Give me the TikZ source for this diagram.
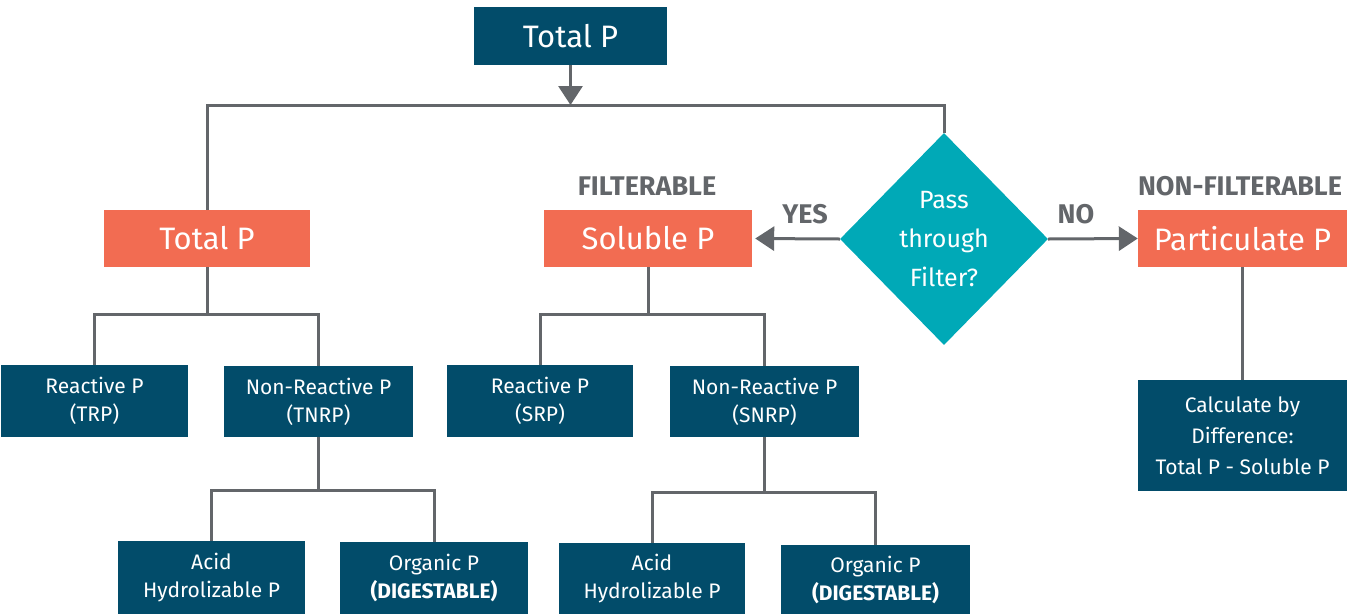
\documentclass[tikz,border=0pt]{standalone}
\usepackage{fontspec}
\setmainfont{Fira Sans}
\usetikzlibrary{arrows.meta, shapes.geometric}

\definecolor{navyP}{HTML}{024C6A}
\definecolor{coralP}{HTML}{F26C52}
\definecolor{tealP}{HTML}{00A9B7}
\definecolor{lineP}{HTML}{63666A}

\begin{document}
\begin{tikzpicture}[line cap=butt,line join=miter,x=1pt,y=-1pt,
    conn/.style={draw=lineP, line width=3pt},
    tip/.style={-{Triangle[length=19pt,width=24pt]}},
    bignavy/.style={rectangle, fill=navyP, text=white, inner sep=0pt, font=\fontsize{31}{36}\selectfont},
    bigcoral/.style={rectangle, fill=coralP, text=white, inner sep=0pt, font=\fontsize{31}{36}\selectfont},
    smallnavy/.style={rectangle, fill=navyP, text=white, inner sep=0pt, align=center, font=\fontsize{21}{28}\selectfont},
    decide/.style={diamond, fill=tealP, text=white, inner sep=0pt, align=center, font=\fontsize{25}{39}\selectfont},
    tag/.style={text=lineP, inner sep=0pt, font=\bfseries\fontsize{27}{30}\selectfont}]
    \useasboundingbox (0,0) rectangle (1347,614);

    % top level
    \draw (570.5,36) node[bignavy, minimum width=193pt, minimum height=58pt] (top) {Total P};
    \coordinate (bus) at (570.5,105);

    \draw (207,238.5) node[bigcoral, minimum width=206pt, minimum height=57pt] (tp) {Total P};
    \draw (648,238.5) node[bigcoral, minimum width=208pt, minimum height=57pt] (sp) {Soluble P};
    \draw (944,239) node[decide, minimum width=208pt, minimum height=212pt] (pass) {Pass\\through\\Filter?};
    \draw (1242.5,238.5) node[bigcoral, minimum width=209pt, minimum height=57pt] (pp) {Particulate P};

    \draw (647,186) node[tag] (filt) {FILTERABLE};
    \draw (1240,186) node[tag] (nonfilt) {NON-FILTERABLE};
    \draw (805,214) node[tag] (yes) {YES};
    \draw (1076,214) node[tag] (no) {NO};

    % total P branch
    \draw (94.5,401) node[smallnavy, minimum width=187pt, minimum height=72pt] (trp) {Reactive P\\(TRP)};
    \draw (318.5,401.5) node[smallnavy, minimum width=189pt, minimum height=71pt] (tnrp) {Non-Reactive P\\(TNRP)};
    \draw (211.5,577.5) node[smallnavy, minimum width=187pt, minimum height=73pt] (tahp) {Acid\\Hydrolizable P};
    \draw (434,578) node[smallnavy, minimum width=188pt, minimum height=72pt] (torg) {Organic P\\\textbf{(DIGESTABLE)}};
    \coordinate (tpj) at (207,314);
    \coordinate (tnrpj) at (318.5,490);

    % soluble P branch
    \draw (540,401) node[smallnavy, minimum width=186pt, minimum height=72pt] (srp) {Reactive P\\(SRP)};
    \draw (764.5,401.5) node[smallnavy, minimum width=189pt, minimum height=71pt] (snrp) {Non-Reactive P\\(SNRP)};
    \draw (652,578.5) node[smallnavy, minimum width=186pt, minimum height=71pt] (sahp) {Acid\\Hydrolizable P};
    \draw (875.5,579.5) node[smallnavy, minimum width=189pt, minimum height=69pt] (sorg) {Organic P\\\textbf{(DIGESTABLE)}};
    \coordinate (spj) at (648,314);
    \coordinate (snrpj) at (764.5,492);

    % particulate P
    \draw (1242.5,435.5) node[smallnavy, minimum width=209pt, minimum height=111pt, font=\fontsize{21}{31}\selectfont] (calc) {Calculate by\\Difference:\\Total P - Soluble P};

    % connectors
    \draw[conn, tip] (top) -- (bus);
    \draw[conn] (tp.north) |- (bus) -| (pass.north);
    \draw[conn, tip, shorten >=3pt] (pass.west) -- (sp.east);
    \draw[conn, tip] (pass.east) -- (pp.west);

    \draw[conn] (tp.south) -- (tpj);
    \draw[conn] (trp.north) |- (tpj) -| (tnrp.north);
    \draw[conn] (tnrp.south) -- (tnrpj);
    \draw[conn] (tahp.north) |- (tnrpj) -| (torg.north);

    \draw[conn] (sp.south) -- (spj);
    \draw[conn] (srp.north) |- (spj) -| (snrp.north);
    \draw[conn] (snrp.south) -- (snrpj);
    \draw[conn] (sahp.north) |- (snrpj) -| (sorg.north);

    \draw[conn] (pp.south) -- (calc.north);

\end{tikzpicture}
\end{document}
